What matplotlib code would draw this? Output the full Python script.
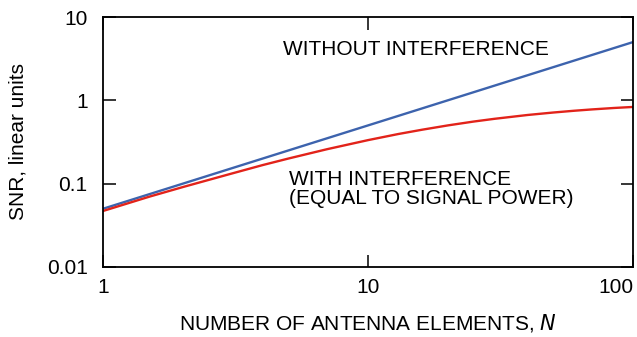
import numpy as np
import matplotlib
matplotlib.use('Agg')
import matplotlib.pyplot as plt

# ── Data ──────────────────────────────────────────────────────────────────────
n_without = [1, 100]
snr_without = [0.05, 5.0]

n_with = [1, 1.5, 2, 3, 4, 5, 7, 10, 13, 16, 20, 25, 30, 40, 50, 60, 70, 85, 100]
snr_with = [0.047, 0.070, 0.091, 0.130, 0.167, 0.200, 0.259, 0.333, 0.394,
            0.444, 0.500, 0.556, 0.600, 0.667, 0.714, 0.750, 0.778, 0.810, 0.833]

x_ticks = [1, 10, 100]
x_ticklabels = ['1', '10', '100']
y_ticks = [0.01, 0.1, 1, 10]
y_ticklabels = ['0.01', '0.1', '1', '10']

BLUE = '#3d63ad'
RED = '#e2231a'
FS = 15

plt.rcParams['font.family'] = ['Liberation Sans', 'DejaVu Sans']
plt.rcParams['font.size'] = FS

fig = plt.figure(figsize=(6.37, 3.37), dpi=100)
ax = fig.add_axes([103 / 637, 1 - 267 / 337, 530 / 637, 250 / 337])

ax.plot(n_without, snr_without, color=BLUE, lw=1.7)
ax.plot(n_with, snr_with, color=RED, lw=1.7)

ax.set_xscale('log')
ax.set_yscale('log')
ax.set_xlim(1, 100)
ax.set_ylim(0.01, 10)
ax.set_xticks(x_ticks)
ax.set_xticklabels(x_ticklabels)
ax.set_yticks(y_ticks)
ax.set_yticklabels(y_ticklabels)
ax.minorticks_off()
ax.tick_params(direction='in', length=9, width=1.1, top=True, right=True,
               labelsize=FS)
ax.tick_params(axis='y', pad=11)
ax.tick_params(axis='x', pad=8)
ax.get_xticklabels()[-1].set_horizontalalignment('right')
for s in ax.spines.values():
    s.set_linewidth(1.3)

ax.set_xlabel('NUMBER OF ANTENNA ELEMENTS, $\\it{N}$', labelpad=11)
ax.set_ylabel('SNR, linear units', labelpad=14)

ax.text(4.78, 4.13, 'WITHOUT INTERFERENCE', fontsize=FS, va='center')
ax.text(5.03, 0.0863, 'WITH INTERFERENCE\n(EQUAL TO SIGNAL POWER)', fontsize=FS,
        va='center', linespacing=1.05)

fig.savefig('out.png', dpi=100)
